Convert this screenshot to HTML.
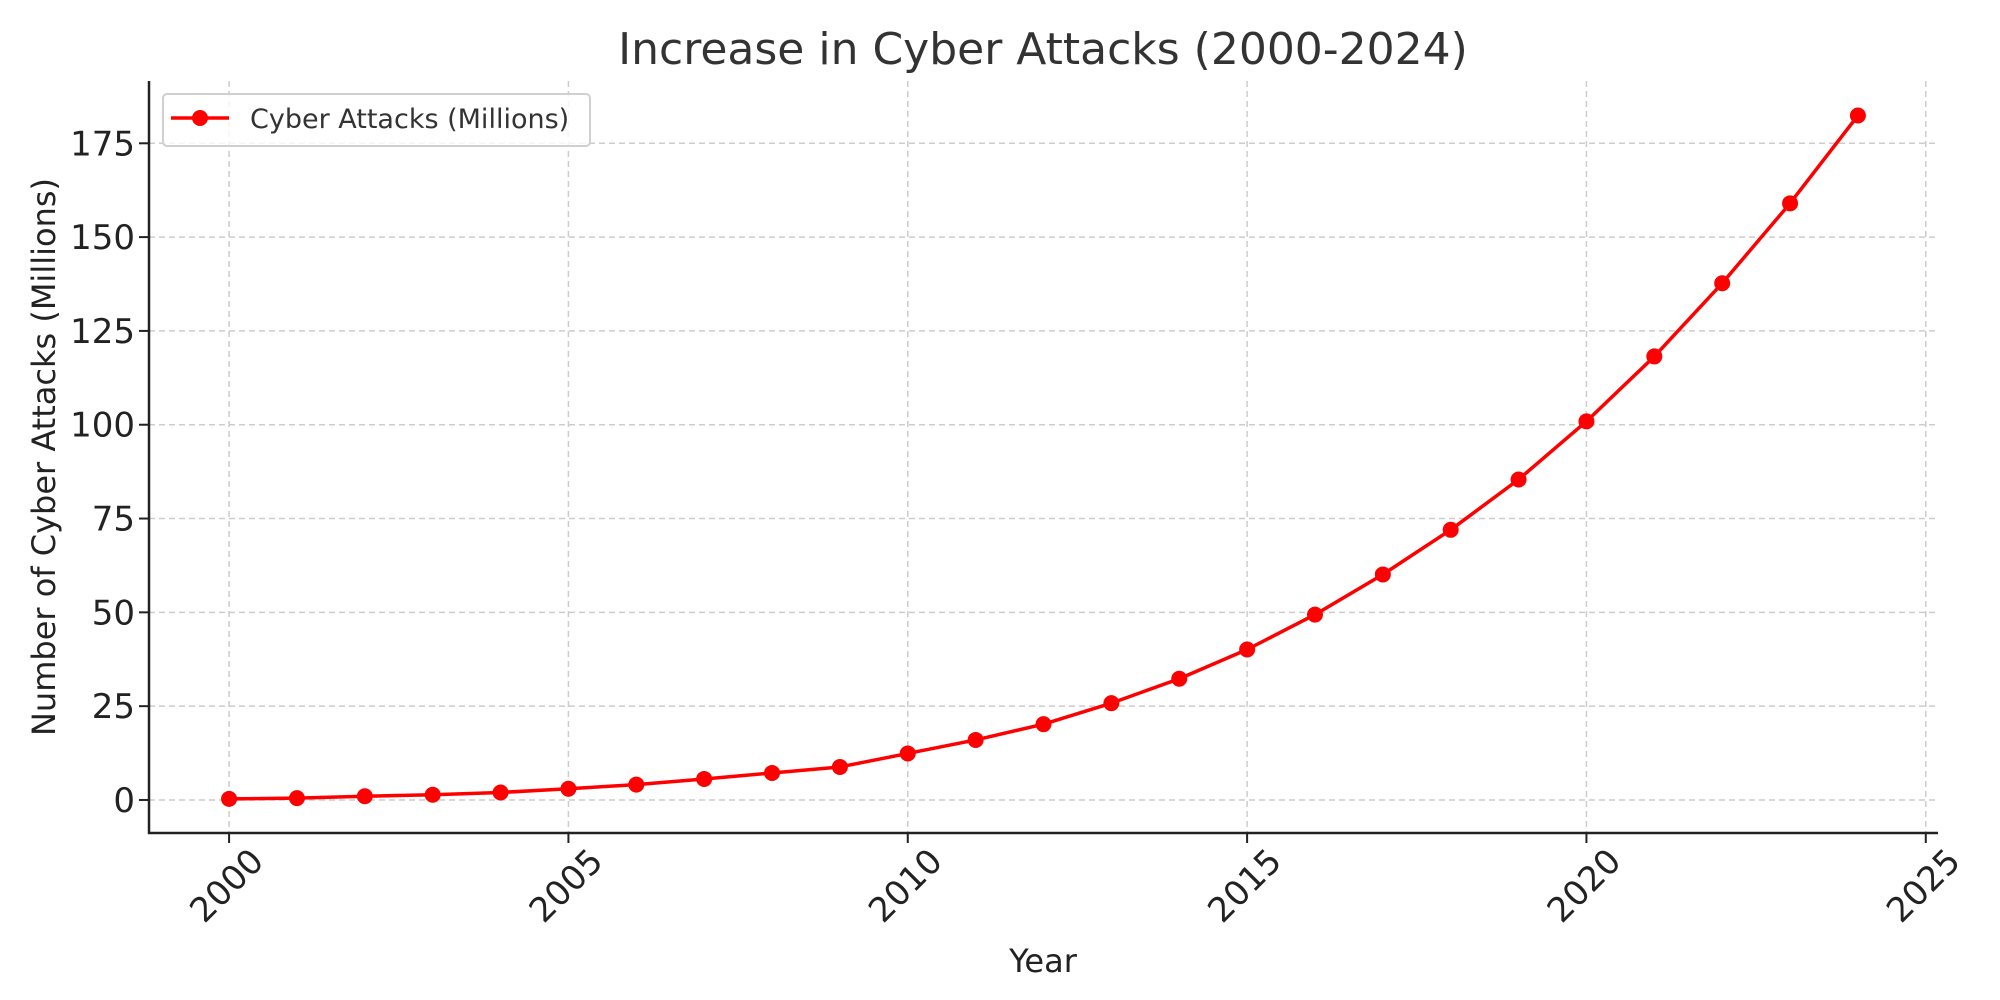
<!DOCTYPE html>
<html><head><meta charset="utf-8"><title>Increase in Cyber Attacks</title>
<style>html,body{margin:0;padding:0;background:#fff}svg{display:block;font-family:"DejaVu Sans","Liberation Sans",sans-serif}</style>
</head><body>
<svg id="chart" width="2000" height="1000" viewBox="0 0 2000 1000" xmlns="http://www.w3.org/2000/svg">
<rect x="0" y="0" width="2000" height="1000" fill="#fff"/>
<g id="grid"></g>
<g id="axes"></g>
<g id="series"></g>
<text x="1043" y="64" text-anchor="middle" font-size="44" fill="#333">Increase in Cyber Attacks (2000-2024)</text>
<text x="1043" y="972" text-anchor="middle" font-size="32" fill="#222">Year</text>
<text transform="translate(55,457) rotate(-90)" text-anchor="middle" font-size="32" fill="#222">Number of Cyber Attacks (Millions)</text>
<g>
<rect x="163" y="94" width="427" height="52" rx="4" fill="#fff" fill-opacity="0.8" stroke="#d0d0d0" stroke-width="2"/>
<line x1="171" y1="118" x2="229" y2="118" stroke="#ff0000" stroke-width="3.5"/>
<circle cx="200" cy="118" r="8" fill="#ff0000"/>
<text x="250" y="128" font-size="27" fill="#333">Cyber Attacks (Millions)</text>
</g>
</svg>
<script>
const years = [2000,2001,2002,2003,2004,2005,2006,2007,2008,2009,2010,2011,2012,2013,2014,2015,2016,2017,2018,2019,2020,2021,2022,2023,2024];
const attacks = [0.3,0.5,1.0,1.4,2.0,3.0,4.1,5.6,7.2,8.8,12.4,16.0,20.2,25.8,32.3,40.1,49.4,60.1,72.0,85.4,100.9,118.2,137.7,159.0,182.4];
const xTicks = [2000,2005,2010,2015,2020,2025];
const yTicks = [0,25,50,75,100,125,150,175];

const L=149,R=1938,T=81,B=833;
const xMin=1998.82,xMax=2025.18,yMin=-8.8,yMax=191.6;
function xs(v){return L+(v-xMin)/(xMax-xMin)*(R-L);}
function ys(v){return B-(v-yMin)/(yMax-yMin)*(B-T);}
const NS="http://www.w3.org/2000/svg";
function mk(tag,attrs,parent){const e=document.createElementNS(NS,tag);for(const k in attrs)e.setAttribute(k,attrs[k]);parent.appendChild(e);return e;}
const grid=document.getElementById('grid'),axes=document.getElementById('axes'),series=document.getElementById('series');

xTicks.forEach(t=>{
  const x=xs(t);
  const g=mk('line',{x1:x,y1:T,x2:x,y2:B,stroke:'#cccccc','stroke-width':1.5,'stroke-dasharray':'6,4'},grid);
  
  
  const tk=mk('line',{x1:x,y1:B,x2:x,y2:B+10,stroke:'#222','stroke-width':2},axes);
  
  
  const lb=mk('text',{x:0,y:0,'text-anchor':'middle','dominant-baseline':'central','font-size':34,fill:'#222',transform:'translate('+(x-2)+',886) rotate(-45)'},axes);
  lb.textContent=String(t);
  
  
});
yTicks.forEach(t=>{
  const y=ys(t);
  const g=mk('line',{x1:L,y1:y,x2:R,y2:y,stroke:'#cccccc','stroke-width':1.5,'stroke-dasharray':'6,4'},grid);
  
  
  const tk=mk('line',{x1:L-10,y1:y,x2:L,y2:y,stroke:'#222','stroke-width':2},axes);
  
  
  const lb=mk('text',{x:L-14,y:y+12,'text-anchor':'end','font-size':34,fill:'#222'},axes);
  lb.textContent=String(t);
  
  
});
const ya=mk('line',{x1:L,y1:T,x2:L,y2:B+1,stroke:'#222','stroke-width':2.5},axes);


const xa=mk('line',{x1:L-1,y1:B,x2:R,y2:B,stroke:'#222','stroke-width':2.5},axes);



const pts=years.map((yr,i)=>xs(yr)+','+ys(attacks[i])).join(' ');
const pl=mk('polyline',{points:pts,fill:'none',stroke:'#ff0000','stroke-width':3.5,'stroke-linejoin':'round'},series);


years.forEach((yr,i)=>{
  const c=mk('circle',{cx:xs(yr),cy:ys(attacks[i]),r:8,fill:'#ff0000'},series);
  
  
});
</script>
</body></html>
